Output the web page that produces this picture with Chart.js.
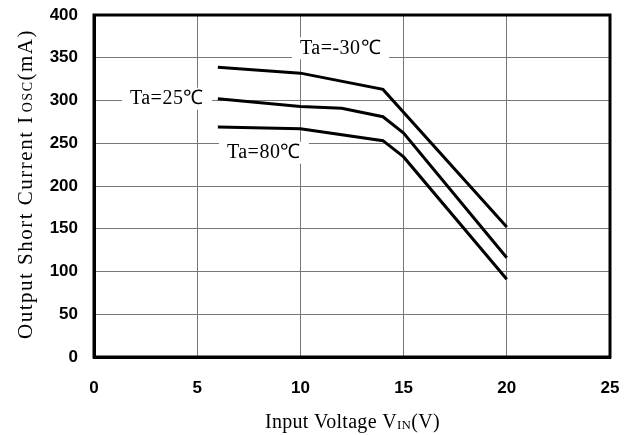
<!DOCTYPE html>
<html>
<head>
<meta charset="utf-8">
<script src="https://cdn.jsdelivr.net/npm/chart.js@4/dist/chart.umd.min.js"></script>
<style>
  html, body { margin: 0; padding: 0; background: #fff; }
  #wrap { width: 629px; height: 435px; }
</style>
</head>
<body>
<div id="wrap"><canvas id="grafico" width="629" height="435"></canvas></div>
<script>
// dados
const serieMenos30 = [{x: 6, y: 339}, {x: 10, y: 332}, {x: 14, y: 313}, {x: 20, y: 152}];
const serie25 = [{x: 6, y: 302}, {x: 10, y: 293}, {x: 12, y: 291}, {x: 14, y: 281}, {x: 15, y: 262}, {x: 20, y: 116}];
const serie80 = [{x: 6, y: 269}, {x: 10, y: 267}, {x: 14, y: 253}, {x: 15, y: 234}, {x: 20, y: 91}];
const rotulos = ['Ta=-30\u2103', 'Ta=25\u2103', 'Ta=80\u2103'];
const ticksX = [0, 5, 10, 15, 20, 25];
const ticksY = [0, 50, 100, 150, 200, 250, 300, 350, 400];

const serif = '"Liberation Serif", "Times New Roman", serif';
const sans = '"Liberation Sans", Arial, sans-serif';

function linha(dados, label) {
  return {
    label: label,
    data: dados,
    borderColor: '#000',
    borderWidth: 3,
    pointRadius: 0,
    tension: 0,
    fill: false
  };
}

// escreve partes de texto em sequência (para os subscritos)
function escrevePartes(ctx, partes, x, y, espaco) {
  partes.forEach(p => {
    ctx.font = p.f;
    ctx.letterSpacing = espaco;
    ctx.fillText(p.t, x, y + (p.dy || 0));
    x += ctx.measureText(p.t).width + (p.gap || 0);
  });
}

// plugin para os textos das curvas e títulos dos eixos
const textos = {
  id: 'textos',
  afterDraw(chart) {
    const ctx = chart.ctx;
    const sx = chart.scales.x, sy = chart.scales.y;
    ctx.save();

    // rótulos das curvas com fundo branco
    const etiquetas = [
      { t: rotulos[0], x: sx.getPixelForValue(9.98), y: sy.getPixelForValue(361) },
      { t: rotulos[1], x: sx.getPixelForValue(1.74), y: sy.getPixelForValue(302) },
      { t: rotulos[2], x: sx.getPixelForValue(6.44), y: sy.getPixelForValue(239) }
    ];
    ctx.font = '20px ' + serif;
    ctx.letterSpacing = '0.5px';
    ctx.textBaseline = 'middle';
    ctx.textAlign = 'left';
    etiquetas.forEach(e => {
      const w = ctx.measureText(e.t).width;
      ctx.fillStyle = '#fff';
      ctx.fillRect(e.x - 8, e.y - 11, w + 16, 22);
      ctx.fillStyle = '#000';
      ctx.fillText(e.t, e.x, e.y);
    });

    // título do eixo X
    ctx.textBaseline = 'alphabetic';
    escrevePartes(ctx, [
      { t: 'Input Voltage V', f: '20px ' + serif },
      { t: 'IN', f: '13px ' + serif, dy: 1 },
      { t: '(V)', f: '20px ' + serif }
    ], 265, 428, '0.3px');

    // título do eixo Y (rotacionado)
    ctx.translate(32, 339);
    ctx.rotate(-Math.PI / 2);
    escrevePartes(ctx, [
      { t: 'Output Short Current I', f: '21px ' + serif, gap: 3 },
      { t: 'OSC', f: '14px ' + serif },
      { t: '(mA)', f: '21px ' + serif }
    ], 0, 0, '1.5px');
    ctx.restore();
  }
};

new Chart(document.getElementById('grafico').getContext('2d'), {
  type: 'line',
  data: {
    datasets: [
      linha(serieMenos30, rotulos[0]),
      linha(serie25, rotulos[1]),
      linha(serie80, rotulos[2])
    ]
  },
  options: {
    responsive: false,
    animation: false,
    layout: { padding: { left: 0, right: 19, top: 15, bottom: 0 } },
    plugins: {
      legend: { display: false },
      tooltip: { enabled: false },
      title: { display: false }
    },
    scales: {
      x: {
        type: 'linear',
        min: 0, max: 25,
        afterBuildTicks: s => { s.ticks = ticksX.map(v => ({ value: v })); },
        afterFit: s => { s.height = 78; s.paddingLeft = 0; s.paddingRight = 0; },
        ticks: {
          color: '#000',
          font: { family: sans, size: 17, weight: 'bold' },
          padding: 21,
          maxRotation: 0
        },
        grid: { color: '#777', lineWidth: 1, drawTicks: false },
        border: { color: '#000', width: 3 }
      },
      y: {
        type: 'linear',
        min: 0, max: 400,
        afterBuildTicks: s => { s.ticks = ticksY.map(v => ({ value: v })); },
        afterFit: s => { s.width = 94; s.paddingTop = 0; s.paddingBottom = 0; },
        ticks: {
          color: '#000',
          font: { family: sans, size: 17, weight: 'bold' },
          padding: 16
        },
        grid: { color: '#777', lineWidth: 1, drawTicks: false },
        border: { color: '#000', width: 3 }
      }
    }
  },
  plugins: [textos, {
    id: 'moldura',
    afterDatasetsDraw(chart) {
      const a = chart.chartArea, ctx = chart.ctx;
      ctx.save();
      ctx.strokeStyle = '#000';
      ctx.lineWidth = 3;
      ctx.strokeRect(a.left, a.top, a.right - a.left, a.bottom - a.top);
      ctx.restore();
    }
  }]
});
</script>
</body>
</html>
